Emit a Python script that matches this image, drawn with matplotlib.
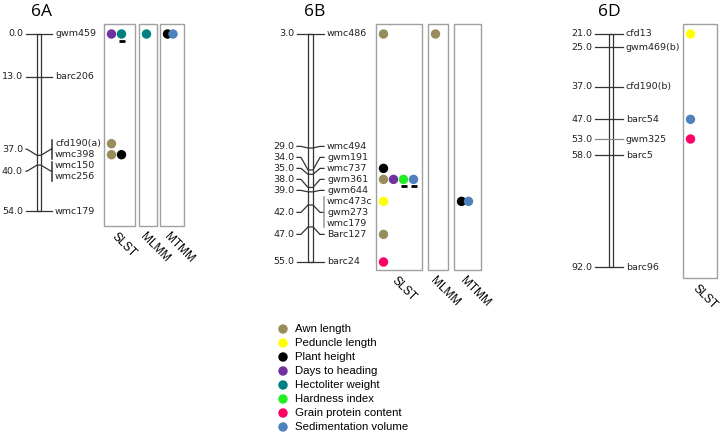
import matplotlib.pyplot as plt

# trait colours (legend order)
traits = ['Awn length', 'Peduncle length', 'Plant height', 'Days to heading',
          'Hectoliter weight', 'Hardness index', 'Grain protein content',
          'Sedimentation volume']
trait_colors = ['#978d5c', '#ffff00', '#000000', '#7030a0',
                '#008080', '#22ee22', '#ff0066', '#4f81bd']

# chromosome maps: cM position and the markers sitting there
chr_6A_cm = [0.0, 13.0, 37.0, 40.0, 54.0]
chr_6A_markers = [['gwm459'], ['barc206'], ['cfd190(a)', 'wmc398'],
                  ['wmc150', 'wmc256'], ['wmc179']]

chr_6B_cm = [3.0, 29.0, 34.0, 35.0, 38.0, 39.0, 42.0, 47.0, 55.0]
chr_6B_markers = [['wmc486'], ['wmc494'], ['gwm191'], ['wmc737'], ['gwm361'],
                  ['gwm644'], ['wmc473c', 'gwm273', 'wmc179'], ['Barc127'],
                  ['barc24']]

chr_6D_cm = [21.0, 25.0, 37.0, 47.0, 53.0, 58.0, 92.0]
chr_6D_markers = [['cfd13'], ['gwm469(b)'], ['cfd190(b)'], ['barc54'],
                  ['gwm325'], ['barc5'], ['barc96']]

# QTL hits: (marker, method, trait, underlined)
qtl_6A = [('gwm459', 'SLST', 'Days to heading', False),
          ('gwm459', 'SLST', 'Hectoliter weight', True),
          ('gwm459', 'MLMM', 'Hectoliter weight', False),
          ('gwm459', 'MTMM', 'Plant height', False),
          ('gwm459', 'MTMM', 'Sedimentation volume', False),
          ('cfd190(a)', 'SLST', 'Awn length', False),
          ('wmc398', 'SLST', 'Awn length', False),
          ('wmc398', 'SLST', 'Plant height', False)]
qtl_6B = [('wmc486', 'SLST', 'Awn length', False),
          ('wmc486', 'MLMM', 'Awn length', False),
          ('wmc737', 'SLST', 'Plant height', False),
          ('gwm361', 'SLST', 'Awn length', False),
          ('gwm361', 'SLST', 'Days to heading', False),
          ('gwm361', 'SLST', 'Hardness index', True),
          ('gwm361', 'SLST', 'Sedimentation volume', True),
          ('wmc473c', 'SLST', 'Peduncle length', False),
          ('wmc473c', 'MTMM', 'Plant height', False),
          ('wmc473c', 'MTMM', 'Sedimentation volume', False),
          ('Barc127', 'SLST', 'Awn length', False),
          ('barc24', 'SLST', 'Grain protein content', False)]
qtl_6D = [('cfd13', 'SLST', 'Peduncle length', False),
          ('barc54', 'SLST', 'Sedimentation volume', False),
          ('gwm325', 'SLST', 'Grain protein content', False)]


def spread(ys, gap):
    # push label rows apart, keeping each cluster centred on its wanted spot
    clusters = [[y] for y in ys]
    changed = True
    while changed:
        changed = False
        out = []
        for c in clusters:
            if out:
                p = out[-1]
                pc = sum(p) / len(p)
                cc = sum(c) / len(c)
                if (cc - (len(c) - 1) * gap / 2) - (pc + (len(p) - 1) * gap / 2) < gap:
                    out[-1] = p + c
                    changed = True
                    continue
            out.append(c)
        clusters = out
    res = []
    for c in clusters:
        m = sum(c) / len(c)
        res += [m + (i - (len(c) - 1) / 2) * gap for i in range(len(c))]
    return res


fig = plt.figure(figsize=(7.21, 4.34), dpi=100)
ax = fig.add_axes([0, 0, 1, 1])
ax.set_xlim(0, 721)
ax.set_ylim(434, 0)
ax.axis('off')

lab_font = dict(family='DejaVu Sans', fontsize=6.8, color='#222222')
lc = '#333333'


def draw_chrom(name, cms, markers, qtls, lay):
    top, bot = 34, lay['bottom']
    scale = (bot - top) / (cms[-1] - cms[0])
    ypos = lambda cm: top + (cm - cms[0]) * scale
    xc0, xc1 = lay['xc']
    ax.text((xc0 + xc1) / 2 + lay['tdx'], 12, name, ha='center', va='center',
            fontsize=12.5, family='Open Sans')
    names = [n for grp in markers for n in grp]
    wanted = [ypos(cm) for cm, grp in zip(cms, markers) for n in grp]
    rows = spread(wanted, 11)
    row_of = dict(zip(names, rows))
    for cm, grp in zip(cms, markers):
        yc = ypos(cm)
        ys = [row_of[n] for n in grp]
        yr = sum(ys) / len(ys)
        col = '#888888' if grp[0] == 'gwm325' else lc
        ax.plot([lay['xl0'], lay['xl1'], xc0, xc1, lay['xr0'], lay['xr1']],
                [yr, yr, yc, yc, yr, yr], color=col, lw=0.9, zorder=3)
        ax.text(lay['xl0'] - 3, yr, '%.1f' % cm, ha='right', va='center', **lab_font)
        if len(grp) > 1:
            bc = '#999999' if len(grp) > 2 else lc
            ax.plot([lay['xr1'], lay['xr1']], [min(ys) - 4, max(ys) + 4], color=bc, lw=1.1, zorder=3)
        for n, y in zip(grp, ys):
            ax.text(lay['xr1'] + 3, y, n, ha='left', va='center', **lab_font)
    ax.add_patch(plt.Rectangle((xc0, top), xc1 - xc0, bot - top, facecolor='white',
                               edgecolor=lc, lw=0.9, zorder=2, joinstyle='round'))
    # method boxes
    for meth, (bx0, bx1), step in lay['boxes']:
        ax.add_patch(plt.Rectangle((bx0, 24), bx1 - bx0, lay['box_bottom'] - 24,
                                   facecolor='none', edgecolor='#a0a0a0', lw=1))
        bc = (bx0 + bx1) / 2
        ax.text(bc - 10, lay['box_bottom'] + 5, meth, rotation=-45, ha='left', va='top',
                fontsize=8.5, family='Liberation Sans')
        slot = {}
        for mk, m, tr, ul in qtls:
            if m != meth:
                continue
            k = slot.get(mk, 0)
            slot[mk] = k + 1
            x = bx0 + 7.5 + k * step
            y = row_of[mk]
            ax.scatter([x], [y], s=46, color=trait_colors[traits.index(tr)],
                       edgecolors='none', zorder=4 + k)
            if ul:
                ax.plot([x - 3, x + 3], [y + 6.5, y + 6.5], color='black', lw=2,
                        solid_capstyle='butt', zorder=5)


draw_chrom('6A', chr_6A_cm, chr_6A_markers, qtl_6A,
           dict(bottom=211, xc=(37, 41), xl0=26, xl1=27, xr0=51, xr1=52, tdx=3,
                box_bottom=226,
                boxes=[('SLST', (104, 135), 10), ('MLMM', (139, 157), 10), ('MTMM', (160, 184), 5.5)]))
draw_chrom('6B', chr_6B_cm, chr_6B_markers, qtl_6B,
           dict(bottom=262, xc=(308, 313), xl0=297, xl1=301, xr0=320, xr1=324, tdx=4,
                box_bottom=270,
                boxes=[('SLST', (376, 422), 10), ('MLMM', (428, 448), 10), ('MTMM', (454, 481), 7)]))
draw_chrom('6D', chr_6D_cm, chr_6D_markers, qtl_6D,
           dict(bottom=267, xc=(609, 613), xl0=595, xl1=596, xr0=622, xr1=623, tdx=-2,
                box_bottom=278,
                boxes=[('SLST', (683, 717), 10)]))

# legend
for i, (t, c) in enumerate(zip(traits, trait_colors)):
    y = 329 + i * 14
    ax.scatter([283], [y], s=46, color=c, edgecolors='none')
    ax.text(295, y, t, ha='left', va='center', fontsize=8.2, family='Liberation Sans')

fig.savefig('out.png', dpi=100)
